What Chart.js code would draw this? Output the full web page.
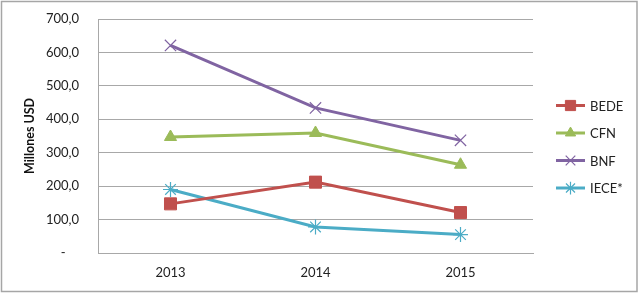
<!DOCTYPE html>
<html>
<head>
<meta charset="utf-8">
<script src="https://cdn.jsdelivr.net/npm/chart.js@4/dist/chart.umd.min.js"></script>
<style>
  body { margin: 0; background: #fff; }
  #wrap { width: 638px; height: 293px; }
</style>
</head>
<body>
<div id="wrap"><canvas id="lineChart" width="638" height="293"></canvas></div>
<script>
// data
var years = ['2013', '2014', '2015'];
var bede = [147, 212, 121];
var cfn = [347, 359, 264];
var bnf = [621, 434, 337];
var iece = [190, 78, 55];
var yTicks = [0, 100, 200, 300, 400, 500, 600, 700];

var font = 'Lato, "Open Sans", sans-serif';

// frame round the whole chart
var framePlugin = {
  id: 'frame',
  beforeDraw: function(chart) {
    var ctx = chart.ctx;
    ctx.save();
    ctx.fillStyle = '#fff';
    ctx.fillRect(0, 0, chart.width, chart.height);
    ctx.strokeStyle = '#a6a6a6';
    ctx.lineWidth = 1.5;
    ctx.strokeRect(1.5, 1.5, chart.width - 2.5, chart.height - 3);
    ctx.restore();
  }
};

// legend in the excel style: short line with the marker on it
var legendPlugin = {
  id: 'xlLegend',
  afterDraw: function(c) {
    var ctx = c.ctx;
    var x0 = 556, x1 = 585, top = 105.5, gap = 27.5;
    ctx.save();
    c.data.datasets.forEach(function(ds, i) {
      var y = top + i * gap;
      ctx.strokeStyle = ds.borderColor;
      ctx.lineWidth = 3;
      ctx.beginPath();
      ctx.moveTo(x0, y);
      ctx.lineTo(x1, y);
      ctx.stroke();
      ctx.fillStyle = ds.backgroundColor;
      ctx.lineWidth = ds.pointBorderWidth;
      Chart.helpers.drawPoint(ctx, {
        pointStyle: ds.pointStyle,
        radius: ds.pointRadius * 0.85,
        borderWidth: ds.pointBorderWidth
      }, (x0 + x1) / 2, y);
      ctx.fillStyle = '#222';
      ctx.font = '13px ' + font;
      ctx.textAlign = 'left';
      ctx.textBaseline = 'middle';
      ctx.fillText(ds.label, 590, y + 1);
    });
    ctx.restore();
  }
};

var chart = document.getElementById('lineChart');
var lineChart = new Chart(chart, {
  type: 'line',
  data: {
    labels: years,
    datasets: [
      { label: 'BEDE', data: bede, borderColor: '#C0504D', backgroundColor: '#C0504D',
        pointStyle: 'rect', pointRadius: 8.5, borderWidth: 3, pointBorderWidth: 1 },
      { label: 'CFN', data: cfn, borderColor: '#9BBB59', backgroundColor: '#9BBB59',
        pointStyle: 'triangle', pointRadius: 7, borderWidth: 3, pointBorderWidth: 1 },
      { label: 'BNF', data: bnf, borderColor: '#8064A2', backgroundColor: '#8064A2',
        pointStyle: 'crossRot', pointRadius: 8, borderWidth: 3, pointBorderWidth: 1.2 },
      { label: 'IECE*', data: iece, borderColor: '#4BACC6', backgroundColor: '#4BACC6',
        pointStyle: 'star', pointRadius: 7.5, borderWidth: 3, pointBorderWidth: 1.2 }
    ]
  },
  options: {
    responsive: false,
    animation: false,
    devicePixelRatio: 1,
    layout: { padding: { left: 0, right: 105, top: 19, bottom: 0 } },
    plugins: { legend: { display: false }, tooltip: { enabled: false } },
    elements: { line: { tension: 0, fill: false } },
    scales: {
      x: {
        offset: true,
        grid: { display: false, drawTicks: false },
        border: { display: true, color: '#a8a8a8', width: 1 },
        ticks: { color: '#222', font: { family: font, size: 13 }, padding: 12 },
        afterFit: function(scale) { scale.height = 40; }
      },
      y: {
        min: 0,
        max: 700,
        afterBuildTicks: function(scale) {
          scale.ticks = yTicks.map(function(v) { return { value: v }; });
        },
        // invisible tick marks push the labels away from the axis
        grid: { color: '#a8a8a8', drawTicks: true, tickLength: 16, tickColor: 'rgba(0,0,0,0)' },
        border: { display: true, color: '#a8a8a8', width: 1 },
        ticks: {
          color: '#222',
          font: { family: font, size: 13 },
          padding: 3,
          callback: function(v) {
            if (v === 0) return '-    ';
            return v.toFixed(1).replace('.', ',');
          }
        },
        title: {
          display: true,
          text: 'Millones USD',
          color: '#111',
          font: { family: font, size: 12.5, weight: 'bold' },
          padding: { top: 22, bottom: 0 }
        },
        afterFit: function(scale) { scale.width = 98; }
      }
    }
  },
  plugins: [framePlugin, legendPlugin]
});
</script>
</body>
</html>
